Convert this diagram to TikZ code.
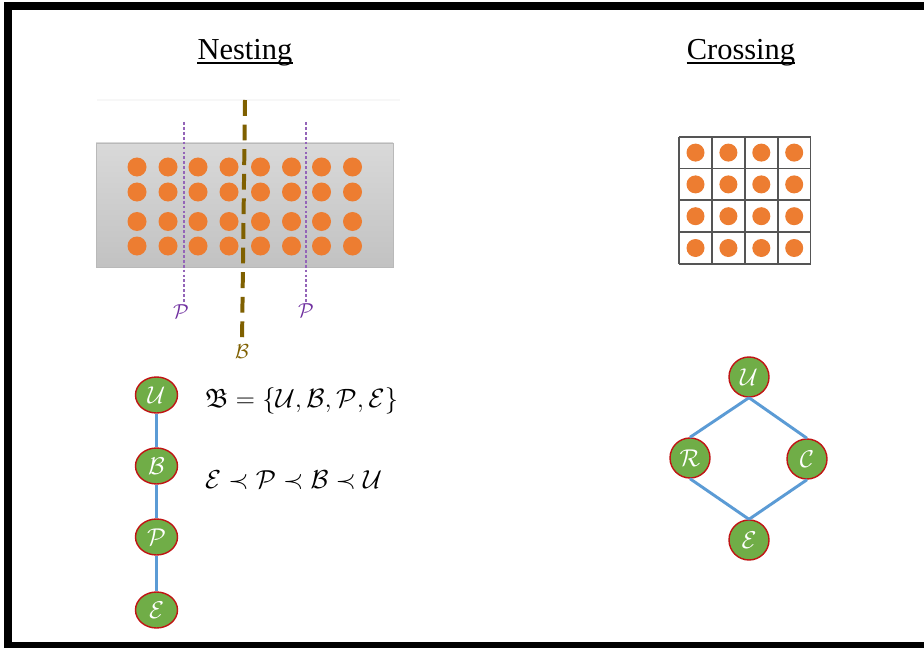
\documentclass[tikz,border=0pt]{standalone}
\usepackage{fontspec}
\usepackage{amssymb}
\usepackage{graphicx}
\usepackage{xcolor}
\usepackage{tikz}
\usetikzlibrary{shapes.geometric}
\setmainfont{Liberation Serif}
\definecolor{dotorange}{RGB}{237,125,49}
\definecolor{nodegreen}{RGB}{112,173,71}
\definecolor{nodered}{RGB}{192,20,20}
\definecolor{linkblue}{RGB}{91,155,213}
\definecolor{cutpurple}{RGB}{112,48,160}
\definecolor{cutbrown}{RGB}{127,96,0}
\definecolor{gridgray}{RGB}{85,85,85}

\begin{document}
\begin{tikzpicture}[x=0.03cm,y=-0.03cm,
  title/.style={anchor=base,inner sep=0pt,font=\fontsize{26}{30}\selectfont},
  formula/.style={anchor=west,font=\fontsize{20.74}{25}\selectfont},
  lattice/.style={circle,draw=nodered,line width=1.2pt,fill=nodegreen,text=white,
    minimum size=1.2cm,inner sep=0pt,font=\fontsize{20.74}{21}\selectfont},
  nestnode/.style={lattice,ellipse,minimum width=1.26cm,minimum height=1.08cm},
  link/.style={linkblue,line width=2.5pt},
  pcut/.style={cutpurple!75,line width=1.1pt,dash pattern=on 2.4pt off 1.8pt},
  bcut/.style={cutbrown,line width=3.4pt,dash pattern=on 13.5pt off 7.5pt},
  cutlabel/.style={font=\fontsize{17.28}{18}\selectfont,inner sep=1pt}]
\useasboundingbox (0,0) rectangle (924,648);
\fill[white] (0,0) rectangle (924,648);
\fill[black] (4,2) rectangle (924,10);
\fill[black] (4,2) rectangle (12,648);
\fill[black] (4,642) rectangle (924,648);

\node[title] (nesttitle) at (245,60) {Nesting};
\node[title] (crosstitle) at (741,60) {Crossing};
\draw[line width=1.3pt] ([yshift=-2.6pt]nesttitle.base west) -- ([yshift=-2.6pt]nesttitle.base east);
\draw[line width=1.3pt] ([yshift=-2.6pt]crosstitle.base west) -- ([yshift=-2.6pt]crosstitle.base east);

\draw[gray!6,line width=1pt] (97,100) -- (400,100);
\shade[top color=gray!30,bottom color=gray!48,draw=gray!55] (96,143) rectangle (393,267);
\foreach \x in {137,168,198,229,260.5,291.5,321.5,352.5}
  \foreach \y in {167,192,221.5,246}
    \fill[dotorange] (\x,\y) circle (0.285cm);

\coordinate (ptopA) at (184,122);
\coordinate (ptopB) at (306,122);
\coordinate (btop) at (245,100);
\node[cutlabel,text=cutpurple] (plabA) at (181,312) {$\mathcal{P}$};
\node[cutlabel,text=cutpurple] (plabB) at (306,311) {$\mathcal{P}$};
\node[cutlabel,text=cutbrown] (blab) at (242,352) {$\mathcal{B}$};
\draw[pcut] (ptopA) -- (ptopA |- plabA.north);
\draw[pcut] (ptopB) -- (ptopB |- plabB.north);
\draw[bcut,shorten >=5pt] (btop) -- (blab.north);

\node[nestnode] (nU) at (156.5,395) {$\mathcal{U}$};
\node[nestnode] (nB) at (156.5,466) {$\mathcal{B}$};
\node[nestnode] (nP) at (156.5,537) {$\mathcal{P}$};
\node[nestnode] (nE) at (156.5,610) {$\mathcal{E}$};
\draw[link] (nU.south) -- (nB.north);
\draw[link] (nB.south) -- (nP.north);
\draw[link] (nP.south) -- (nE.north);

\node[formula] (setdef) at (201,401) {\scalebox{1.09}{$\mathfrak{B}=\{\mathcal{U},\mathcal{B},\mathcal{P},\mathcal{E}\}$}};
\node[formula] (order) at (201,480) {\scalebox{1.07}{$\mathcal{E}\prec\mathcal{P}\prec\mathcal{B}\prec\mathcal{U}$}};

\foreach \i in {0,...,4} {
  \draw[gridgray,line width=1.5pt] (679+32.9*\i,136.7) -- (679+32.9*\i,264);
  \draw[gridgray,line width=1.5pt] (679,136.7+31.8*\i) -- (810.7,136.7+31.8*\i);
}
\foreach \i in {0,...,3}
  \foreach \j in {0,...,3}
    \fill[dotorange] (695.5+32.9*\i,152.6+31.8*\j) circle (0.27cm);

\node[lattice] (cU) at (749,377) {$\mathcal{U}$};
\node[lattice] (cR) at (690,458) {$\mathcal{R}$};
\node[lattice] (cC) at (807,459) {$\mathcal{C}$};
\node[lattice] (cE) at (749,540) {$\mathcal{E}$};
\draw[link] (cU.south) -- (cR.north);
\draw[link] (cU.south) -- (cC.north);
\draw[link] (cR.south) -- (cE.north);
\draw[link] (cC.south) -- (cE.north);
\end{tikzpicture}
\end{document}
